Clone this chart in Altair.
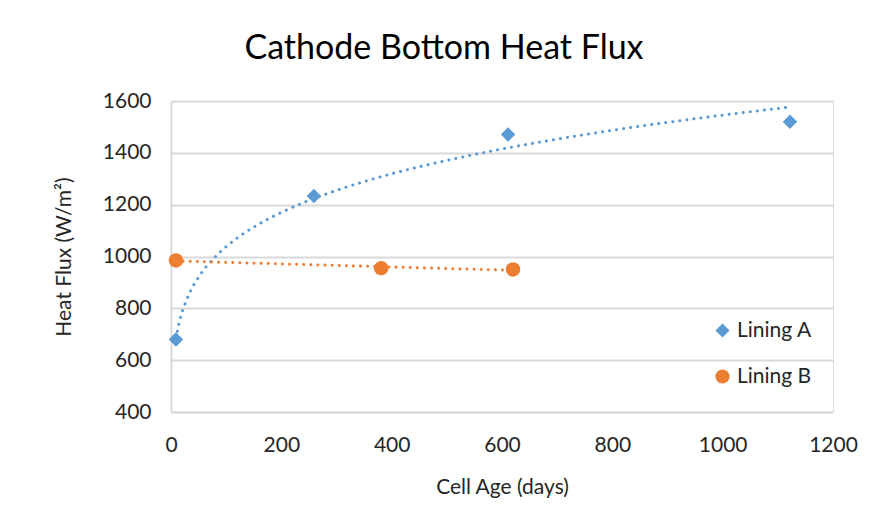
import altair as alt
import pandas as pd

# ---- data ----
series_names = ["Lining A", "Lining B"]
a_age = [9, 259, 611, 1122]
a_flux = [680, 1233, 1471, 1520]
b_age = [9, 381, 620]
b_flux = [985, 955, 950]
x_ticks = [0, 200, 400, 600, 800, 1000, 1200]
y_ticks = [400, 600, 800, 1000, 1200, 1400, 1600]

df = pd.DataFrame({
    "age": a_age + b_age,
    "flux": a_flux + b_flux,
    "series": [series_names[0]] * len(a_age) + [series_names[1]] * len(b_age),
})

FONT = "Lato"
TEXT = "#262626"
GRID = "#D9D9D9"
BLUE = "#5B9BD5"
ORANGE = "#ED7D31"

x_enc = alt.X(
    "age:Q",
    scale=alt.Scale(domain=[0, 1200], nice=False),
    axis=alt.Axis(
        title="Cell Age (days)", values=x_ticks, format="d", grid=False, ticks=False,
        labelFlush=False,
        domainColor=GRID, domainWidth=2, labelPadding=22, titlePadding=21,
        labelFontSize=21, titleFontSize=21, labelColor=TEXT, titleColor=TEXT,
        labelFont=FONT, titleFont=FONT, titleFontWeight="normal",
    ),
)
y_enc = alt.Y(
    "flux:Q",
    scale=alt.Scale(domain=[400, 1600], nice=False, zero=False),
    axis=alt.Axis(
        title="Heat Flux (W/m²)", values=y_ticks, format="d", grid=True, gridColor=GRID,
        gridWidth=2, ticks=False, domainColor=GRID, domainWidth=2,
        labelPadding=20, titlePadding=28,
        labelFontSize=21, titleFontSize=21, labelColor=TEXT, titleColor=TEXT,
        labelFont=FONT, titleFont=FONT, titleFontWeight="normal",
    ),
)

base = alt.Chart(df)

trend_a = (
    base.transform_filter(alt.datum.series == series_names[0])
    .transform_regression("age", "flux", method="pow")
    .mark_line(color=BLUE, strokeWidth=3, strokeDash=[0.1, 7], strokeCap="round")
    .encode(x=x_enc, y=y_enc)
)
trend_b = (
    base.transform_filter(alt.datum.series == series_names[1])
    .transform_regression("age", "flux", method="linear")
    .mark_line(color=ORANGE, strokeWidth=3, strokeDash=[0.1, 7], strokeCap="round")
    .encode(x=x_enc, y=y_enc)
)

points = base.mark_point(filled=True, opacity=1, size=210).encode(
    x=x_enc,
    y=y_enc,
    color=alt.Color(
        "series:N",
        scale=alt.Scale(domain=series_names, range=[BLUE, ORANGE]),
        legend=alt.Legend(
            title=None, orient="none", legendX=541, legendY=219,
            labelFontSize=21, labelFont=FONT, labelColor=TEXT,
            symbolSize=200, rowPadding=24, labelOffset=4, padding=0,
        ),
    ),
    shape=alt.Shape(
        "series:N",
        scale=alt.Scale(domain=series_names, range=["diamond", "circle"]),
    ),
)

chart = (
    alt.layer(trend_a, trend_b, points)
    .properties(
        width=662,
        height=311,
        padding={"left": 163, "top": 93, "right": 30, "bottom": 95},
        autosize=alt.AutoSizeParams(type="none"),
        title=alt.TitleParams(
            "Cathode Bottom Heat Flux", font=FONT, fontSize=34,
            fontWeight="normal", color="#000000", anchor="middle",
            frame="group", dx=-58, offset=-3, baseline="alphabetic",
        ),
    )
    .configure_view(stroke=None)
    .configure(background="white")
)

chart.save("out.html", embed_options={"renderer": "svg", "actions": False})
